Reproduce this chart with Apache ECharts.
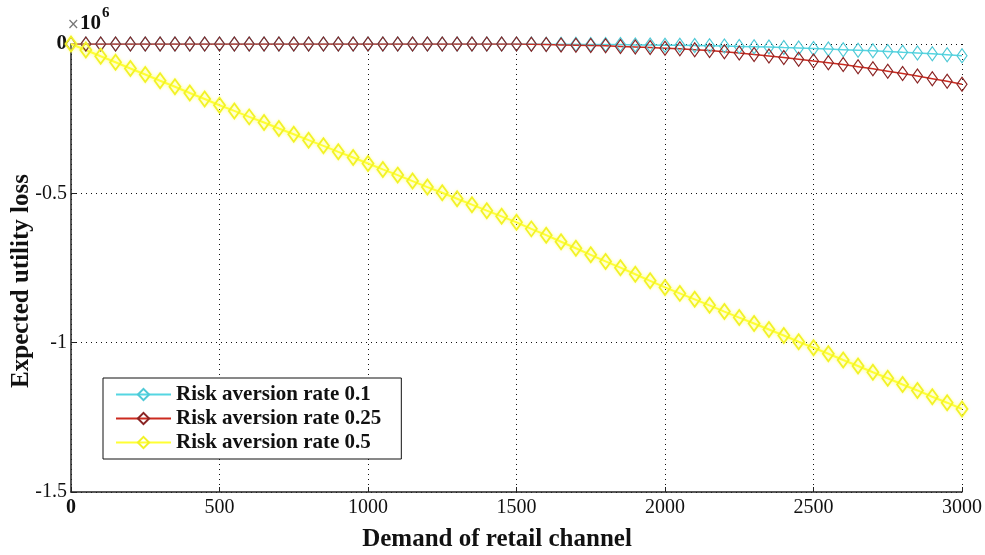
<!DOCTYPE html>
<html>
<head>
<meta charset="utf-8">
<script src="https://cdn.jsdelivr.net/npm/echarts@6/dist/echarts.min.js"></script>
<style>
html,body{margin:0;padding:0;background:#fff;}
#chart{width:985px;height:555px;}
</style>
</head>
<body>
<div id="chart"></div>
<script>
// Demand of retail channel (x values)
const demand = [0,50,100,150,200,250,300,350,400,450,500,550,600,650,700,750,800,850,900,950,1000,
  1050,1100,1150,1200,1250,1300,1350,1400,1450,1500,1550,1600,1650,1700,1750,1800,1850,1900,1950,2000,
  2050,2100,2150,2200,2250,2300,2350,2400,2450,2500,2550,2600,2650,2700,2750,2800,2850,2900,2950,3000];

// Expected utility loss (x10^6)
const rate01 = [0,0,0,0,0,0,0,0,0,0,0,
  0,0,0,0,0,0,0,0,0,0,
  0,0,0,0,0,0,0,0,0,0,
  0,-0.0005,-0.001,-0.001,-0.0015,-0.002,-0.002,-0.003,-0.003,-0.004,
  -0.004,-0.005,-0.006,-0.007,-0.008,-0.009,-0.010,-0.012,-0.013,-0.015,
  -0.017,-0.019,-0.021,-0.023,-0.025,-0.028,-0.030,-0.033,-0.036,-0.039];

const rate025 = [0,0,0,0,0,0,0,0,0,0,0,
  0,0,0,0,0,0,0,0,0,0,
  0,0,0,0,0,0,0,0,0,0,
  -0.001,-0.002,-0.003,-0.004,-0.005,-0.006,-0.008,-0.010,-0.012,-0.014,
  -0.016,-0.019,-0.022,-0.026,-0.030,-0.035,-0.040,-0.045,-0.051,-0.057,
  -0.063,-0.069,-0.076,-0.083,-0.091,-0.099,-0.107,-0.116,-0.125,-0.135];

const rate05 = [0,-0.020,-0.041,-0.061,-0.082,-0.102,-0.123,-0.143,-0.164,-0.184,-0.205,
  -0.224,-0.244,-0.263,-0.283,-0.302,-0.322,-0.341,-0.361,-0.380,-0.400,
  -0.420,-0.439,-0.459,-0.479,-0.498,-0.518,-0.538,-0.558,-0.577,-0.597,
  -0.619,-0.640,-0.662,-0.684,-0.706,-0.728,-0.749,-0.771,-0.793,-0.815,
  -0.835,-0.855,-0.875,-0.896,-0.916,-0.936,-0.956,-0.976,-0.997,-1.017,
  -1.037,-1.058,-1.078,-1.099,-1.119,-1.140,-1.160,-1.181,-1.201,-1.222];

const seriesNames = ['Risk aversion rate 0.1','Risk aversion rate 0.25','Risk aversion rate 0.5'];
const xTitle = 'Demand of retail channel';
const yTitle = 'Expected utility loss';

const pair = arr => demand.map((d, i) => [d, arr[i]]);

const FONT = '"Liberation Serif", "Times New Roman", serif';

const chart = echarts.init(document.getElementById('chart'), null, {renderer: 'canvas'});

function mkSeries(name, data, lineColor, markColor, extra) {
  return Object.assign({
    name: name,
    type: 'line',
    data: pair(data),
    symbol: 'diamond',
    symbolSize: [10, 14],
    showAllSymbol: true,
    lineStyle: {color: lineColor, width: 1.5},
    itemStyle: {color: 'rgba(255,255,255,0)', borderColor: markColor, borderWidth: 1.2},
    emphasis: {disabled: true},
    animation: false
  }, extra || {});
}

const option = {
  animation: false,
  backgroundColor: '#fff',
  grid: {left: 71, right: 23, top: 44, bottom: 63, containLabel: false},
  xAxis: {
    type: 'value', min: 0, max: 3000, interval: 500,
    axisLine: {onZero: false, lineStyle: {color: '#222', width: 1.5}},
    axisTick: {inside: true, length: 5, lineStyle: {color: '#222'}},
    axisLabel: {
      margin: 6, color: '#111', fontFamily: FONT, fontSize: 20,
      formatter: v => v === 0 ? '{b|0}' : String(v),
      rich: {b: {fontWeight: 'bold', fontFamily: FONT, fontSize: 20, color: '#111'}}
    },
    splitLine: {show: true, lineStyle: {color: '#111', type: [1, 4], width: 1}}
  },
  yAxis: {
    type: 'value', min: -1.5, max: 0, interval: 0.5,
    axisLine: {show: true, lineStyle: {color: '#222', width: 1.5}},
    axisTick: {show: true, inside: true, length: 5, lineStyle: {color: '#222'}},
    axisLabel: {
      margin: 4, color: '#111', fontFamily: FONT, fontSize: 20,
      formatter: v => v === 0 ? '{b|0}' : String(v),
      rich: {b: {fontWeight: 'bold', fontFamily: FONT, fontSize: 21, color: '#111'}}
    },
    splitLine: {show: true, lineStyle: {color: '#111', type: [1, 4], width: 1}}
  },
  legend: {
    orient: 'vertical',
    left: 103, top: 378,
    padding: [6, 20, 6, 12],
    itemWidth: 55, itemHeight: 14, itemGap: 3,
    backgroundColor: '#fff',
    borderColor: '#111', borderWidth: 1, borderRadius: 0,
    textStyle: {fontFamily: FONT, fontSize: 21, fontWeight: 'bold', color: '#111', lineHeight: 21},
    data: seriesNames
  },
  graphic: [
    {type: 'text', left: 67, top: 18, style: {text: '×', font: '15px "DejaVu Sans", sans-serif', fill: '#777'}},
    {type: 'text', left: 80, top: 13, style: {text: '10', font: 'bold 21px ' + FONT, fill: '#111'}},
    {type: 'text', left: 102, top: 6, style: {text: '6', font: 'bold 15px ' + FONT, fill: '#111'}},
    {type: 'text', x: 497, y: 540, style: {text: xTitle, font: 'bold 25px ' + FONT, fill: '#111', textAlign: 'center', textVerticalAlign: 'middle'}},
    {type: 'text', x: 22, y: 281, rotation: Math.PI / 2, style: {text: yTitle, font: 'bold 25px ' + FONT, fill: '#111', textAlign: 'center', textVerticalAlign: 'middle'}}
  ],
  series: [
    mkSeries(seriesNames[0], rate01, '#55d6e2', '#4fc9d6'),
    mkSeries(seriesNames[1], rate025, '#cc2a1f', '#8a2424'),
    mkSeries(seriesNames[2], rate05, '#ffff33', '#f2f226', {
      symbolSize: [11, 15],
      lineStyle: {color: '#ffff33', width: 2, shadowColor: 'rgba(255,255,60,0.7)', shadowBlur: 4},
      itemStyle: {color: 'rgba(255,255,255,0)', borderColor: '#f2f226', borderWidth: 1.8, shadowColor: 'rgba(255,255,80,0.6)', shadowBlur: 3}
    })
  ]
};

chart.setOption(option);
</script>
</body>
</html>
